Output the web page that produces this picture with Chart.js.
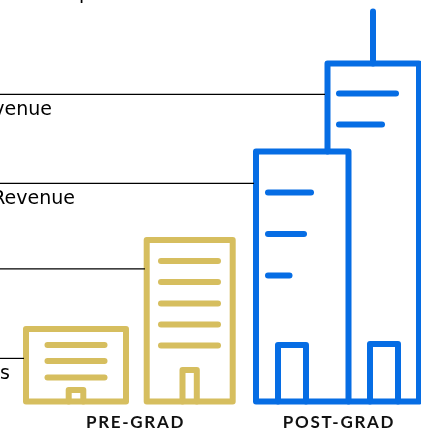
<!DOCTYPE html>
<html>
<head>
<meta charset="utf-8">
<style>html,body{margin:0;padding:0;background:#fff;overflow:hidden}canvas{display:block}</style>
<script src="https://cdn.jsdelivr.net/npm/chart.js@4"></script>
</head>
<body>
<canvas id="c" width="421" height="430"></canvas>
<script>
const categories = ['PRE-GRAD', 'POST-GRAD'];
const categoryX = [135.5, 339];

const preSmallTop = 72.5, preTallTop = 161.5, postLowTop = 250, postHighTop = 338;
const preSmallX = [26, 126], preTallX = [146.7, 232.7], postLowX = [256, 348.5], postHighX = [327.5, 419];

const preSmallWindows = [56.5, 40.5, 24];
const preTallWindows = [140.5, 119.5, 98, 77, 56];
const postLowWindows = [209, 167.5, 126];
const postLowWindowEnds = [311, 304, 289.5];
const postHighWindows = [308, 277];
const postHighWindowEnds = [396, 382];

const doorsX = [[68.7, 83.3], [182.5, 196.8], [278, 306], [370, 398]];
const doorsTop = [11.5, 31.5, 56.5, 57.5];
const antenna = { x: 373, from: postHighTop, to: 390 };

const leaderValues = [307.1, 218.1, 132.6, 43.1];
const leaderEnds = [325, 254, 145, 24];

const labelTexts = ['p', 'venue', 'Revenue', 's'];
const labelRightX = [91, 52, 75, 10];
const labelValues = [407, 291.5, 202.7, 27.7];

const gold = '#D6BE5F', blue = '#066DE4';
const strokeWidth = 6;

function line(points, color, width) {
  return { data: points.map(p => ({ x: p[0], y: p[1] })), borderColor: color, borderWidth: width,
    borderCapStyle: 'round', borderJoinStyle: 'round', pointRadius: 0, tension: 0, fill: false, clip: false, showLine: true };
}
function box(xs, top) { return [[xs[0], 0], [xs[0], top], [xs[1], top], [xs[1], 0], [xs[0], 0]]; }
function bars(ys, x0, ends, color) { return ys.map((y, i) => line([[x0, y], [ends[i], y]], color, strokeWidth)); }

const datasets = [];
leaderValues.forEach((v, i) => {
  const d = line([[0, v], [leaderEnds[i], v]], '#000', 1.2);
  d.borderCapStyle = 'butt';
  datasets.push(d);
});
datasets.push(line(box(preSmallX, preSmallTop), gold, strokeWidth));
datasets.push(line(box(preTallX, preTallTop), gold, strokeWidth));
datasets.push(...bars(preSmallWindows, 47.5, preSmallWindows.map(() => 104.5), gold));
datasets.push(...bars(preTallWindows, 161, preTallWindows.map(() => 218), gold));
datasets.push(line(box(postLowX, postLowTop), blue, strokeWidth));
datasets.push(line([[postHighX[0], postLowTop], [postHighX[0], postHighTop], [postHighX[1], postHighTop], [postHighX[1], 0], [postLowX[1], 0]], blue, strokeWidth));
datasets.push(line([[antenna.x, antenna.from], [antenna.x, antenna.to]], blue, strokeWidth));
datasets.push(...bars(postLowWindows, 268, postLowWindowEnds, blue));
datasets.push(...bars(postHighWindows, 339, postHighWindowEnds, blue));
doorsX.forEach((xs, i) => {
  datasets.push(line([[xs[0], 0], [xs[0], doorsTop[i]], [xs[1], doorsTop[i]], [xs[1], 0]], i < 2 ? gold : blue, strokeWidth));
});

const labelPlugin = {
  id: 'labels',
  beforeDraw(chart) { chart.ctx.letterSpacing = '1.7px'; },
  afterDatasetsDraw(chart) {
    const ctx = chart.ctx, xs = chart.scales.x, ys = chart.scales.y;
    ctx.save();
    ctx.letterSpacing = '0px';
    ctx.font = '19px "DejaVu Sans"';
    ctx.fillStyle = '#000';
    ctx.textAlign = 'right';
    ctx.textBaseline = 'middle';
    labelTexts.forEach((t, i) => ctx.fillText(t, xs.getPixelForValue(labelRightX[i]), ys.getPixelForValue(labelValues[i])));
    ctx.restore();
  }
};

new Chart(document.getElementById('c'), {
  type: 'scatter',
  data: { datasets },
  plugins: [labelPlugin],
  options: {
    responsive: false,
    animation: false,
    events: [],
    layout: { padding: 0 },
    plugins: { legend: { display: false }, tooltip: { enabled: false }, title: { display: false } },
    scales: {
      x: {
        type: 'linear', min: 0, max: 421,
        grid: { display: false }, border: { display: false },
        afterFit(s) { s.height = 28.5; },
        afterBuildTicks(s) { s.ticks = categoryX.map(v => ({ value: v })); },
        ticks: {
          autoSkip: false, maxRotation: 0, padding: 3, color: '#111',
          font: { family: 'Lato', weight: 'bold', size: 17 },
          callback: v => categories[categoryX.indexOf(v)]
        }
      },
      y: { type: 'linear', min: 0, max: 401.5, display: false }
    }
  }
});
</script>
</body>
</html>
